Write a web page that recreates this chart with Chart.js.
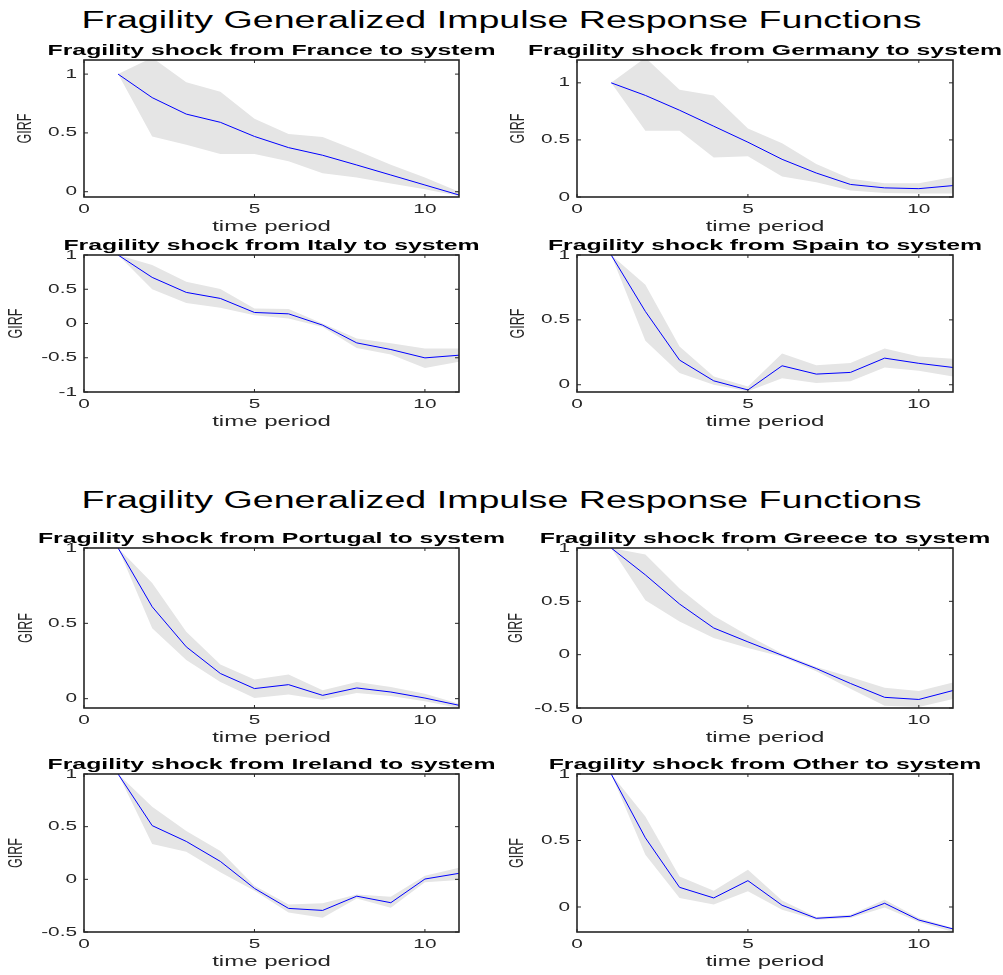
<!DOCTYPE html>
<html>
<head>
<meta charset="utf-8">
<script src="https://cdn.jsdelivr.net/npm/chart.js@4/dist/chart.umd.min.js"></script>
<style>
  html, body { margin: 0; padding: 0; background: #fff; overflow: hidden; }
  body { width: 1003px; height: 975px; position: relative; font-family: "Liberation Sans", Arial, sans-serif; }
  .suptitle {
    position: absolute; left: 0; width: 1003px; text-align: center;
    font-size: 23.5px; line-height: 23.5px; color: #000;
    transform: scaleX(1.6); transform-origin: 50% 50%;
  }
  .panel { position: absolute; }
</style>
</head>
<body>
<div class="suptitle" style="top:9px">Fragility Generalized Impulse Response Functions</div>
<div class="suptitle" style="top:489px">Fragility Generalized Impulse Response Functions</div>
<script>
// time periods on the x axis
const periods = [1, 2, 3, 4, 5, 6, 7, 8, 9, 10, 11];
const xTicks = [0, 5, 10];

// GIRF point estimate and band
const franceMean  = [1, 0.80, 0.66, 0.59, 0.47, 0.375, 0.31, 0.227, 0.142, 0.057, -0.028];
const franceUpper = [1, 1.14, 0.93, 0.85, 0.62, 0.49, 0.465, 0.35, 0.23, 0.12, 0.0];
const franceLower = [1, 0.47, 0.40, 0.32, 0.32, 0.26, 0.156, 0.12, 0.07, 0.02, -0.037];

const germanyMean  = [1, 0.89, 0.76, 0.62, 0.48, 0.33, 0.21, 0.11, 0.08, 0.073, 0.10];
const germanyUpper = [1, 1.22, 0.94, 0.89, 0.60, 0.47, 0.29, 0.16, 0.12, 0.12, 0.175];
const germanyLower = [1, 0.58, 0.58, 0.345, 0.357, 0.18, 0.13, 0.058, 0.035, 0.03, 0.03];

const italyMean  = [1, 0.673, 0.454, 0.366, 0.161, 0.141, -0.024, -0.283, -0.38, -0.502, -0.463];
const italyUpper = [1, 0.854, 0.61, 0.502, 0.22, 0.21, 0.0, -0.22, -0.29, -0.366, -0.366];
const italyLower = [1, 0.5, 0.3, 0.23, 0.12, 0.073, -0.05, -0.356, -0.454, -0.65, -0.56];

const spainMean  = [1, 0.565, 0.19, 0.03, -0.04, 0.146, 0.082, 0.095, 0.205, 0.165, 0.133];
const spainUpper = [1, 0.77, 0.295, 0.064, -0.013, 0.24, 0.15, 0.167, 0.28, 0.218, 0.2];
const spainLower = [1, 0.34, 0.09, 0.0, -0.05, 0.05, 0.013, 0.026, 0.133, 0.108, 0.064];

const portugalMean  = [1, 0.61, 0.344, 0.167, 0.067, 0.093, 0.022, 0.071, 0.044, 0.004, -0.044];
const portugalUpper = [1, 0.767, 0.444, 0.227, 0.127, 0.16, 0.056, 0.111, 0.078, 0.033, -0.033];
const portugalLower = [1, 0.467, 0.256, 0.111, 0.004, 0.027, -0.007, 0.038, 0.018, -0.018, -0.062];

const greeceMean  = [1, 0.748, 0.475, 0.25, 0.12, -0.006, -0.13, -0.27, -0.4, -0.42, -0.336];
const greeceUpper = [1, 0.94, 0.62, 0.365, 0.18, 0.01, -0.116, -0.21, -0.31, -0.34, -0.26];
const greeceLower = [1, 0.51, 0.31, 0.157, 0.063, -0.02, -0.155, -0.32, -0.48, -0.49, -0.415];

const irelandMean  = [1, 0.51, 0.36, 0.17, -0.086, -0.276, -0.295, -0.16, -0.222, 0.003, 0.057];
const irelandUpper = [1, 0.69, 0.46, 0.27, -0.06, -0.238, -0.228, -0.143, -0.165, 0.035, 0.11];
const irelandLower = [1, 0.336, 0.263, 0.067, -0.108, -0.314, -0.365, -0.181, -0.27, -0.028, -0.006];

const otherMean  = [1, 0.52, 0.148, 0.068, 0.198, 0.013, -0.085, -0.07, 0.028, -0.098, -0.165];
const otherUpper = [1, 0.68, 0.23, 0.123, 0.28, 0.048, -0.075, -0.058, 0.055, -0.083, -0.158];
const otherLower = [1, 0.393, 0.068, 0.018, 0.118, -0.02, -0.095, -0.083, -0.003, -0.113, -0.188];

// y axis limits and ticks
const yTicksPos  = [0, 0.5, 1];
const yTicksFull = [-1, -0.5, 0, 0.5, 1];
const yTicksHalf = [-0.5, 0, 0.5, 1];

const panels = [
  { name: 'France',   mean: franceMean,   upper: franceUpper,   lower: franceLower,   ymin: -0.045, ymax: 1.12, ticks: yTicksPos },
  { name: 'Germany',  mean: germanyMean,  upper: germanyUpper,  lower: germanyLower,  ymin: 0,      ymax: 1.2,  ticks: yTicksPos },
  { name: 'Italy',    mean: italyMean,    upper: italyUpper,    lower: italyLower,    ymin: -1,     ymax: 1,    ticks: yTicksFull },
  { name: 'Spain',    mean: spainMean,    upper: spainUpper,    lower: spainLower,    ymin: -0.056, ymax: 1,    ticks: yTicksPos },
  { name: 'Portugal', mean: portugalMean, upper: portugalUpper, lower: portugalLower, ymin: -0.062, ymax: 1,    ticks: yTicksPos },
  { name: 'Greece',   mean: greeceMean,   upper: greeceUpper,   lower: greeceLower,   ymin: -0.5,   ymax: 1,    ticks: yTicksHalf },
  { name: 'Ireland',  mean: irelandMean,  upper: irelandUpper,  lower: irelandLower,  ymin: -0.5,   ymax: 1,    ticks: yTicksHalf },
  { name: 'Other',    mean: otherMean,    upper: otherUpper,    lower: otherLower,    ymin: -0.188, ymax: 1,    ticks: yTicksPos }
];

// where each axes box sits on the page: left, top, width, height, GIRF distance from box
const boxes = [
  [84, 60, 375, 137, 58.5], [577, 60, 376, 137, 58.5],
  [84, 255, 375, 137, 67.5], [577, 255, 376, 137, 59],
  [84, 548, 375, 160, 58], [577, 548, 376, 160, 60.5],
  [84, 774, 375, 158, 67.5], [577, 774, 376, 158, 59.5]
];

const STRETCH = 1.6;   // the figure text is widened horizontally
const YAXIS_W = 84, XAXIS_H = 40, TITLE_H = 21, RIGHT_PAD = 60;
const AXIS_COLOR = '#262626';

Chart.defaults.font.family = '"Liberation Sans", Arial, sans-serif';
Chart.defaults.color = AXIS_COLOR;

// draw all canvas text widened on screen x, like the reference
const stretchText = {
  id: 'stretchText',
  beforeInit(chart) {
    const ctx = chart.ctx;
    const fill = ctx.fillText;
    ctx.fillText = function (text, x, y) {
      const m = this.getTransform();
      this.save();
      this.translate(x, y);
      if (Math.abs(m.b) > Math.abs(m.a)) this.scale(1, STRETCH);
      else this.scale(STRETCH, 1);
      fill.call(this, text, 0, 0);
      this.restore();
    };
  }
};

// matlab style box with inward ticks on all four sides
const axesBox = {
  id: 'axesBox',
  afterDraw(chart) {
    const { ctx, chartArea: a, scales: { x, y } } = chart;
    ctx.save();
    ctx.strokeStyle = AXIS_COLOR;
    ctx.lineWidth = 1.6;
    ctx.strokeRect(a.left, a.top, a.width, a.height);
    ctx.lineWidth = 1;
    ctx.beginPath();
    x.ticks.forEach(t => {
      const px = x.getPixelForValue(t.value);
      ctx.moveTo(px, a.bottom); ctx.lineTo(px, a.bottom - 3);
      ctx.moveTo(px, a.top); ctx.lineTo(px, a.top + 3);
    });
    y.ticks.forEach(t => {
      const py = y.getPixelForValue(t.value);
      ctx.moveTo(a.left, py); ctx.lineTo(a.left + 4, py);
      ctx.moveTo(a.right, py); ctx.lineTo(a.right - 4, py);
    });
    ctx.stroke();
    ctx.restore();
  }
};

function points(values) {
  return periods.map((p, i) => ({ x: p, y: values[i] }));
}

panels.forEach((p, i) => {
  const [bl, bt, bw, bh, gdist] = boxes[i];
  const w = YAXIS_W + bw + RIGHT_PAD;
  const h = TITLE_H + bh + XAXIS_H;

  const holder = document.createElement('div');
  holder.className = 'panel';
  holder.style.left = (bl - YAXIS_W) + 'px';
  holder.style.top = (bt - TITLE_H) + 'px';
  const canvas = document.createElement('canvas');
  canvas.width = w;
  canvas.height = h;
  canvas.style.width = w + 'px';
  canvas.style.height = h + 'px';
  holder.appendChild(canvas);
  document.body.appendChild(holder);

  new Chart(canvas, {
    type: 'line',
    data: {
      datasets: [
        { data: points(p.mean), borderColor: 'rgb(0,0,255)', borderWidth: 1, pointRadius: 0, fill: false },
        { data: points(p.upper), borderWidth: 0, pointRadius: 0, backgroundColor: '#e5e5e5', fill: '+1' },
        { data: points(p.lower), borderWidth: 0, pointRadius: 0, fill: false }
      ]
    },
    options: {
      responsive: false,
      animation: false,
      events: [],
      layout: { padding: { left: 0, right: RIGHT_PAD, top: 0, bottom: 0 } },
      plugins: {
        legend: { display: false },
        tooltip: { enabled: false },
        title: {
          display: true,
          text: 'Fragility shock from ' + p.name + ' to system',
          fullSize: false,
          color: '#000',
          font: { size: 15.5, weight: 'bold', lineHeight: 1.2 },
          padding: { top: 2.4, bottom: 0 }
        }
      },
      scales: {
        x: {
          type: 'linear',
          min: 0,
          max: 11,
          grid: { display: false, drawTicks: false },
          border: { display: false },
          ticks: { padding: 5, font: { size: 13 }, callback: v => String(v) },
          afterBuildTicks: s => { s.ticks = xTicks.map(v => ({ value: v })); },
          afterFit: s => { s.height = XAXIS_H; },
          title: { display: true, text: 'time period', font: { size: 15 }, padding: { top: 0, bottom: 1 } }
        },
        y: {
          type: 'linear',
          min: p.ymin,
          max: p.ymax,
          grid: { display: false, drawTicks: false },
          border: { display: false },
          ticks: { padding: 7, font: { size: 13 }, callback: v => String(v) },
          afterBuildTicks: s => { s.ticks = p.ticks.map(v => ({ value: v })); },
          afterFit: s => { s.width = YAXIS_W; },
          title: { display: true, text: 'GIRF', font: { size: 12.5 }, padding: { top: YAXIS_W - gdist - 7.5, bottom: 0 } }
        }
      }
    },
    plugins: [stretchText, axesBox]
  });
});
</script>
</body>
</html>
